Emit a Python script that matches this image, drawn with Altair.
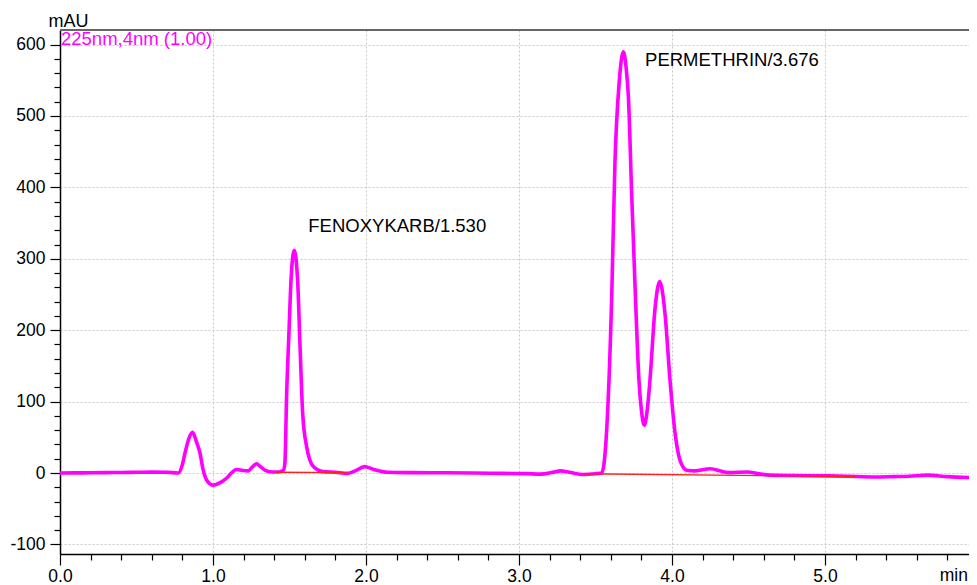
import altair as alt
import pandas as pd

# ---- Chromatogram signal (225nm,4nm) ----
time_min = [0.00, 0.10, 0.20, 0.30, 0.40, 0.50, 0.60, 0.70, 0.773, 0.80, 0.817, 0.845,
            0.867, 0.89, 0.915, 0.935, 0.959, 1.002, 1.05, 1.09, 1.12, 1.155, 1.195,
            1.23, 1.26, 1.285, 1.31, 1.35, 1.39, 1.43, 1.46, 1.47, 1.481, 1.497, 1.51,
            1.531, 1.553, 1.569, 1.586, 1.612, 1.656, 1.72, 1.80, 1.88, 1.93, 1.99,
            2.05, 2.14, 2.30, 2.50, 2.70, 2.90, 3.05, 3.14, 3.22, 3.27, 3.33, 3.42,
            3.50, 3.54, 3.555, 3.573, 3.606, 3.627, 3.656, 3.682, 3.70, 3.715, 3.737,
            3.765, 3.784, 3.80, 3.819, 3.838, 3.856, 3.889, 3.92, 3.954, 3.987, 4.02,
            4.052, 4.096, 4.15, 4.25, 4.33, 4.38, 4.49, 4.57, 4.64, 4.80, 5.01, 5.15,
            5.31, 5.45, 5.55, 5.67, 5.80, 5.99]
signal_mau = [0.0, 0.2, 0.3, 0.5, 0.8, 1.0, 1.2, 1.0, 0.0, 12, 28, 50,
              57, 45, 28, 5, -10, -17, -13, -7, 0, 5, 3.5,
              3, 9, 13, 9, 3, 1.5, 1.5, 4, 14, 107, 200, 270,
              312, 270, 177, 84, 37, 9, 2, 1, -0.5, 3, 9,
              5, 1, 0.5, 0.3, 0.0, -0.5, -0.8, -1.5, 1, 3, 1, -2,
              -1, 0, 12, 60, 247, 434, 550, 590, 568, 527, 387,
              224, 130, 88, 67, 88, 130, 230, 268, 224, 130, 56,
              18, 4, 3, 6, 2, 0.5, 1.5, -1, -3, -3.5, -4, -4.5,
              -5.5, -5, -4.5, -3, -5, -6.5]

# ---- Integration baselines (red) ----
base_segment = ["b1", "b1", "b2", "b2"]
base_time = [1.41, 1.88, 3.42, 5.20]
base_mau = [1.0, 0.5, -1.0, -5.0]

# ---- Peak annotations ----
peak_labels = ["FENOXYKARB/1.530", "PERMETHRIN/3.676"]
peak_label_time = [1.623, 3.824]
peak_label_mau = [338, 570]

channel_label = ["225nm,4nm (1.00)"]
x_unit_label = ["min"]

# ---- Axis tick positions ----
x_ticks = [round(i * 0.2, 1) for i in range(0, 30)]
y_ticks = list(range(-100, 601, 20))

W, H = 909, 524
X_DOMAIN = [0, W / 153.0]
Y_DOMAIN = [-113.4, 620.4]
FONT = "Liberation Sans"

signal = pd.DataFrame({"t": time_min, "v": signal_mau})
base = pd.DataFrame({"seg": base_segment, "t": base_time, "v": base_mau})
ann = pd.DataFrame({"label": peak_labels, "t": peak_label_time, "v": peak_label_mau})
chan = pd.DataFrame({"label": channel_label})
unit = pd.DataFrame({"label": x_unit_label})

x_major = "abs(datum.value - round(datum.value)) < 0.001"
y_major = "datum.value % 100 === 0"

x_scale = alt.Scale(domain=X_DOMAIN, nice=False, zero=False)
y_scale = alt.Scale(domain=Y_DOMAIN, nice=False, zero=False)

x_axis = alt.Axis(
    values=x_ticks,
    tickCount=500,
    title=None,
    labelExpr=f"{x_major} ? format(datum.value, '.1f') : ''",
    labelOverlap=False,
    labelBound=False,
    labelFlush=False,
    labelFont=FONT,
    labelFontSize=17.5,
    labelColor="black",
    labelPadding=2,
    tickSize={"condition": {"test": x_major, "value": 11}, "value": 6},
    tickColor="black",
    tickWidth=1.2,
    domainColor="black",
    domainWidth=1.5,
    grid=True,
    gridColor="#c8c8c8",
    gridDash=[2, 2],
    gridWidth=1,
    gridOpacity={"condition": {"test": x_major, "value": 1}, "value": 0},
)

y_axis = alt.Axis(
    values=y_ticks,
    tickCount=500,
    title="mAU",
    titleAngle=0,
    titleX=-12,
    titleY=-4,
    titleAlign="left",
    titleBaseline="alphabetic",
    titleFont=FONT,
    titleFontSize=18,
    titleFontWeight="normal",
    titleColor="black",
    labelExpr=f"{y_major} ? datum.value : ''",
    labelOverlap=False,
    labelBound=False,
    labelFlush=False,
    labelFont=FONT,
    labelFontSize=17.5,
    labelColor="black",
    labelPadding=5,
    tickSize={"condition": {"test": y_major, "value": 10}, "value": 6},
    tickColor="black",
    tickWidth=1.2,
    domainColor="black",
    domainWidth=1.5,
    grid=True,
    gridColor="#c8c8c8",
    gridDash=[2, 2],
    gridWidth=1,
    gridOpacity={"condition": {"test": y_major, "value": 1}, "value": 0},
)

line = alt.Chart(signal).mark_line(
    color="#FF00FF", strokeWidth=3.6, interpolate="monotone", clip=True
).encode(
    x=alt.X("t:Q", scale=x_scale, axis=x_axis),
    y=alt.Y("v:Q", scale=y_scale, axis=y_axis),
)

baseline = alt.Chart(base).mark_line(color="#FF2020", strokeWidth=1.4, clip=True).encode(
    x=alt.X("t:Q", scale=x_scale),
    y=alt.Y("v:Q", scale=y_scale),
    detail="seg:N",
)

labels = alt.Chart(ann).mark_text(
    align="left", baseline="alphabetic", font=FONT, fontSize=18.5, color="black"
).encode(
    x=alt.X("t:Q", scale=x_scale),
    y=alt.Y("v:Q", scale=y_scale),
    text="label:N",
)

chan_text = alt.Chart(chan).mark_text(
    align="left", baseline="alphabetic", font=FONT, fontSize=18.5, color="#FF00FF"
).encode(
    x=alt.value(1),
    y=alt.value(15),
    text="label:N",
)

unit_text = alt.Chart(unit).mark_text(
    align="right", baseline="alphabetic", font=FONT, fontSize=17.5, color="black"
).encode(
    x=alt.value(W - 1),
    y=alt.value(H + 27),
    text="label:N",
)

top_border = alt.Chart(chan).mark_rule(color="#666666", strokeWidth=2).encode(
    x=alt.value(0), x2=alt.value(W), y=alt.value(0)
)

chart = alt.layer(line, baseline, labels, chan_text, unit_text, top_border).properties(
    width=W,
    height=H,
    autosize=alt.AutoSizeParams(type="none"),
    padding={"left": 52, "top": 22, "right": 0, "bottom": 35},
).configure_view(stroke=None).configure(background="white")

chart.save("out.html", embed_options={"renderer": "svg", "actions": False})
